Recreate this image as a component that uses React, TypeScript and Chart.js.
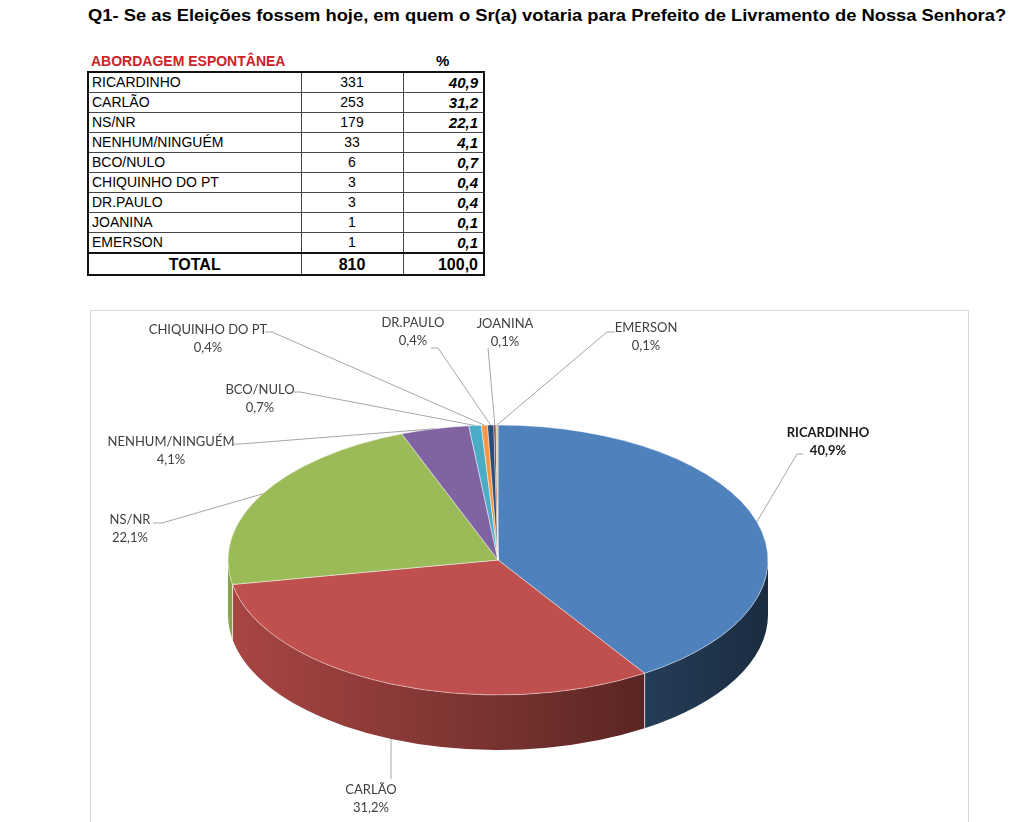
import React, { useEffect, useRef } from "react";
import { Chart, registerables } from "chart.js";
Chart.register(...registerables);

const titleText = "Q1- Se as Eleições fossem hoje, em quem o Sr(a) votaria para Prefeito de Livramento de Nossa Senhora?";
const tableHeader = "ABORDAGEM ESPONTÂNEA";
const categories = ["RICARDINHO", "CARLÃO", "NS/NR", "NENHUM/NINGUÉM", "BCO/NULO", "CHIQUINHO DO PT", "DR.PAULO", "JOANINA", "EMERSON"];
const counts = [331, 253, 179, 33, 6, 3, 3, 1, 1];
const percents = ["40,9", "31,2", "22,1", "4,1", "0,7", "0,4", "0,4", "0,1", "0,1"];
const totalCount = "810";
const totalPercent = "100,0";
const sliceColors = ["#4F81BD", "#C0504D", "#9BBB59", "#8064A2", "#4BACC6", "#F79646", "#2C4D75", "#772C2A", "#D9C3A5"];

// layout (page coordinates)
const CANVAS_LEFT = 90;
const CANVAS_TOP = 310;
const CANVAS_W = 878;
const CANVAS_H = 512;
const PIE_RADIUS = 270;
const TILT = 0.5;
const DEPTH = 55;

type LabelPos = { x: number; y: number; line: number[][]; bold?: boolean; side?: boolean };
const labelLayout: LabelPos[] = [
  { x: 828, y: 433, line: [[803, 454], [797, 454]], bold: true },
  { x: 371, y: 790, line: [[391, 779]], side: true },
  { x: 130, y: 520, line: [[153, 523], [162, 523]] },
  { x: 171, y: 442, line: [[233, 444], [240, 444]] },
  { x: 260, y: 390, line: [[293, 392], [300, 392]] },
  { x: 208, y: 330, line: [[265, 332], [272, 332]] },
  { x: 413, y: 323, line: [[431, 348], [438, 348]] },
  { x: 505, y: 324, line: [[488, 348]] },
  { x: 646, y: 328, line: [[615, 332], [607, 332]] },
];

function shade(hex: string, f: number) {
  const n = parseInt(hex.slice(1), 16);
  const r = Math.round(((n >> 16) & 255) * f);
  const g = Math.round(((n >> 8) & 255) * f);
  const b = Math.round((n & 255) * f);
  return `rgb(${r},${g},${b})`;
}

const pie3d = {
  id: "pie3d",
  beforeDatasetsDraw(chart: any) {
    const ctx: CanvasRenderingContext2D = chart.ctx;
    const arcs = chart.getDatasetMeta(0).data as any[];
    let cx = 0, cy = 0;
    if (arcs.length) {
      cx = arcs[0].x;
      cy = arcs[0].y;
      const R = arcs[0].outerRadius;
      const rx = R, ry = R * TILT;
      arcs.forEach((arc, i) => {
        const a1 = Math.max(arc.startAngle, 0);
        const a2 = Math.min(arc.endAngle, Math.PI);
        if (a2 <= a1) return;
        const col = sliceColors[i];
        const g = ctx.createLinearGradient(cx - rx, 0, cx + rx, 0);
        g.addColorStop(0, shade(col, 0.88));
        g.addColorStop(0.5, shade(col, 0.62));
        g.addColorStop(1, shade(col, 0.34));
        ctx.beginPath();
        ctx.ellipse(cx, cy, rx, ry, 0, a1, a2, false);
        ctx.lineTo(cx + rx * Math.cos(a2), cy + ry * Math.sin(a2) + DEPTH);
        ctx.ellipse(cx, cy + DEPTH, rx, ry, 0, a2, a1, true);
        ctx.closePath();
        ctx.fillStyle = g;
        ctx.fill();
        ctx.strokeStyle = "rgba(255,255,255,0.6)";
        ctx.lineWidth = 1;
        [a1, a2].forEach((a) => {
          if (a > 0.001 && a < Math.PI - 0.001) {
            ctx.beginPath();
            ctx.moveTo(cx + rx * Math.cos(a), cy + ry * Math.sin(a));
            ctx.lineTo(cx + rx * Math.cos(a), cy + ry * Math.sin(a) + DEPTH);
            ctx.stroke();
          }
        });
      });
    }
    ctx.save();
    ctx.translate(cx, cy);
    ctx.scale(1, TILT);
    ctx.translate(-cx, -cy);
  },
  afterDatasetsDraw(chart: any) {
    chart.ctx.restore();
  },
};

const pieLabels = {
  id: "pieLabels",
  afterDraw(chart: any) {
    const ctx: CanvasRenderingContext2D = chart.ctx;
    const arcs = chart.getDatasetMeta(0).data as any[];
    ctx.save();
    arcs.forEach((arc, i) => {
      const L = labelLayout[i];
      if (!L) return;
      const mid = (arc.startAngle + arc.endAngle) / 2;
      const R = arc.outerRadius;
      const ax = arc.x + R * Math.cos(mid);
      const ay = arc.y + R * TILT * Math.sin(mid) + (L.side ? DEPTH : 0);
      ctx.strokeStyle = "#A6A6A6";
      ctx.lineWidth = 1;
      ctx.beginPath();
      L.line.forEach((p, k) => {
        const px = p[0] - CANVAS_LEFT, py = p[1] - CANVAS_TOP;
        if (k === 0) ctx.moveTo(px, py);
        else ctx.lineTo(px, py);
      });
      ctx.lineTo(ax, ay);
      ctx.stroke();
      ctx.fillStyle = L.bold ? "#1a1a1a" : "#404040";
      ctx.font = `${L.bold ? "bold " : ""}13px Lato`;
      ctx.textAlign = "center";
      ctx.textBaseline = "middle";
      const tx = L.x - CANVAS_LEFT, ty = L.y - CANVAS_TOP;
      ctx.fillText(categories[i], tx, ty);
      ctx.fillText(percents[i] + "%", tx, ty + 18);
    });
    ctx.restore();
  },
};

function PieChart() {
  const ref = useRef<HTMLCanvasElement>(null);
  useEffect(() => {
    if (!ref.current) return;
    const chart = new Chart(ref.current, {
      type: "pie",
      data: {
        labels: categories,
        datasets: [
          {
            data: counts,
            backgroundColor: sliceColors,
            borderColor: "rgba(255,255,255,0.6)",
            borderWidth: 1,
            radius: PIE_RADIUS,
            clip: false,
          } as any,
        ],
      },
      options: {
        animation: false,
        responsive: false,
        devicePixelRatio: 1,
        events: [],
        layout: { padding: { right: 62, bottom: 12 } },
        plugins: { legend: { display: false }, tooltip: { enabled: false } },
      },
      plugins: [pie3d, pieLabels],
    });
    return () => chart.destroy();
  }, []);
  return (
    <canvas
      ref={ref}
      width={CANVAS_W}
      height={CANVAS_H}
      style={{ position: "absolute", left: CANVAS_LEFT, top: CANVAS_TOP, width: CANVAS_W, height: CANVAS_H }}
    />
  );
}

const cellBase: React.CSSProperties = {
  border: "1px solid #444",
  padding: "0 3px",
  height: 19,
  lineHeight: "19px",
  whiteSpace: "nowrap",
};

export default function App() {
  return (
    <div style={{ position: "fixed", left: 0, top: 0, width: 1024, height: 822, background: "#fff", overflow: "hidden", fontFamily: "'Liberation Sans', Arial, sans-serif", color: "#000" }}>
      <div style={{ position: "absolute", left: 88, top: 7, fontSize: 16, fontWeight: "bold", whiteSpace: "nowrap", transform: "scaleX(1.146)", transformOrigin: "left top" }}>{titleText}</div>
      <div style={{ position: "absolute", left: 91, top: 53, fontSize: 14, fontWeight: "bold", color: "#CC2229" }}>{tableHeader}</div>
      <div style={{ position: "absolute", left: 436, top: 52, fontSize: 15, fontWeight: "bold" }}>%</div>
      <table style={{ position: "absolute", left: 87, top: 71, width: 396, borderCollapse: "collapse", border: "2px solid #111", fontSize: 14, tableLayout: "fixed" }}>
        <colgroup>
          <col style={{ width: 213 }} />
          <col style={{ width: 102 }} />
          <col style={{ width: 81 }} />
        </colgroup>
        <tbody>
          {categories.map((c, i) => (
            <tr key={c}>
              <td style={{ ...cellBase, textAlign: "left" }}>{c}</td>
              <td style={{ ...cellBase, textAlign: "center" }}>{counts[i]}</td>
              <td style={{ ...cellBase, textAlign: "right", fontWeight: "bold", fontStyle: "italic", fontSize: 15, paddingRight: 5 }}>{percents[i]}</td>
            </tr>
          ))}
          <tr>
            <td style={{ ...cellBase, borderTop: "2px solid #111", textAlign: "center", fontWeight: "bold", fontSize: 16, height: 20 }}>TOTAL</td>
            <td style={{ ...cellBase, borderTop: "2px solid #111", textAlign: "center", fontWeight: "bold", fontSize: 16, height: 20 }}>{totalCount}</td>
            <td style={{ ...cellBase, borderTop: "2px solid #111", textAlign: "right", fontWeight: "bold", fontSize: 16, height: 20, paddingRight: 5 }}>{totalPercent}</td>
          </tr>
        </tbody>
      </table>
      <div style={{ position: "absolute", left: 90, top: 310, width: 877, height: 600, border: "1px solid #d9d9d9" }} />
      <PieChart />
    </div>
  );
}
